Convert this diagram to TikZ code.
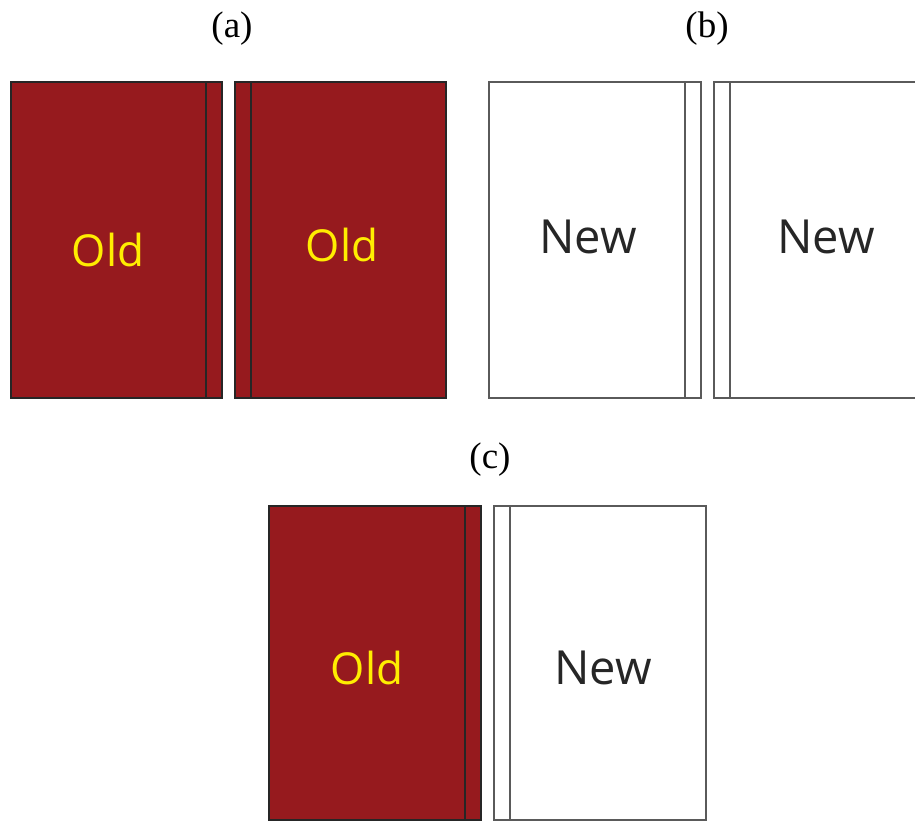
\documentclass[tikz,border=0pt]{standalone}
\usepackage{fontspec}
\setmainfont{Liberation Serif}
\newfontfamily\labelfont{Open Sans}
\definecolor{bookred}{RGB}{150,26,30}
\definecolor{edgegray}{RGB}{90,90,90}
\tikzset{
  oldbook/.style={fill=bookred, draw=black!85, line width=1.4pt},
  newbook/.style={fill=white, draw=edgegray, line width=1.4pt},
  oldspine/.style={draw=black!85, line width=1.4pt},
  newspine/.style={draw=edgegray, line width=1.4pt},
  oldtext/.style={text=yellow!95!orange, font=\labelfont\fontsize{44}{52}\selectfont},
  newtext/.style={text=black!85, font=\labelfont\fontsize{47}{56}\selectfont},
  caption/.style={font=\fontsize{37}{42}\selectfont}
}
\begin{document}
\begin{tikzpicture}[x=1pt,y=-1pt]
\useasboundingbox (0,0) rectangle (915,821);
% (a) two old books
\node[caption] (capa) at (232,29) {(a)};
\draw[oldbook] (11,82) rectangle (222,398);
\draw[oldspine] (206,82) -- (206,398);
\draw[oldbook] (235,82) rectangle (446,398);
\draw[oldspine] (251,82) -- (251,398);
\node[oldtext] (olda1) at (108,250) {Old};
\node[oldtext] (olda2) at (342,245) {Old};
% (b) two new books
\node[caption] (capb) at (707,29) {(b)};
\draw[newbook] (489,82) rectangle (701,398);
\draw[newspine] (685,82) -- (685,398);
\draw[newbook] (714,82) rectangle (925,398);
\draw[newspine] (730,82) -- (730,398);
\node[newtext] (newb1) at (588,237) {New};
\node[newtext] (newb2) at (826,237) {New};
% (c) old book beside new book
\node[caption] (capc) at (490,460) {(c)};
\draw[oldbook] (269,506) rectangle (481,820);
\draw[oldspine] (465,506) -- (465,820);
\draw[newbook] (494,506) rectangle (706,820);
\draw[newspine] (510,506) -- (510,820);
\node[oldtext] (oldc) at (367,668) {Old};
\node[newtext] (newc) at (603,668) {New};
\end{tikzpicture}
\end{document}
